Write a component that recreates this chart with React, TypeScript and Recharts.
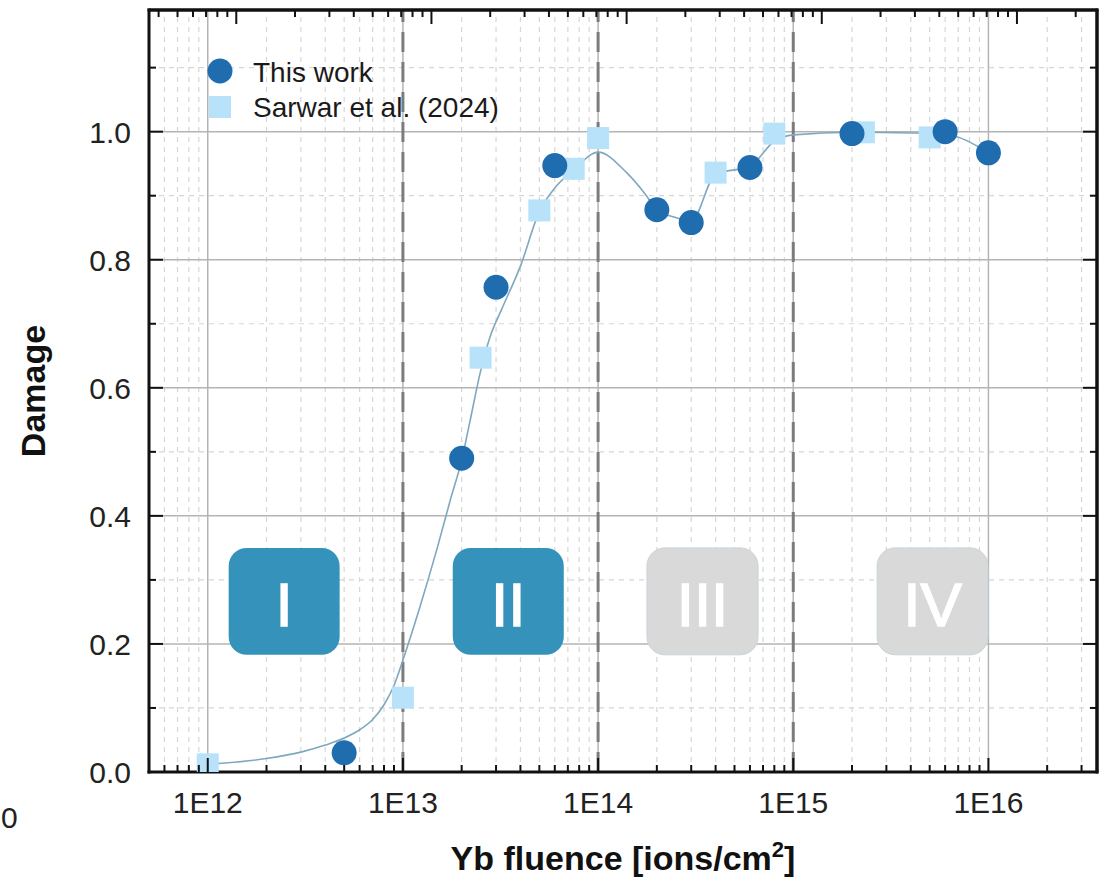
import {
  ComposedChart,
  Line,
  Scatter,
  XAxis,
  YAxis,
  ReferenceLine,
  ReferenceArea,
  Legend,
} from 'recharts';

const FONT = '"Liberation Sans", Arial, sans-serif';

// "This work" – measured damage vs Yb fluence
const thisWorkFluence = [5e12, 2e13, 3e13, 6e13, 2e14, 3e14, 6e14, 2e15, 6e15, 1e16];
const thisWorkDamage = [0.03, 0.49, 0.757, 0.947, 0.878, 0.858, 0.944, 0.997, 1.0, 0.967];

// Sarwar et al. (2024)
const sarwarFluence = [1e12, 1e13, 2.5e13, 5e13, 7.5e13, 1e14, 4e14, 8e14, 2.3e15, 5e15];
const sarwarDamage = [0.012, 0.116, 0.647, 0.877, 0.942, 0.99, 0.936, 0.997, 0.999, 0.991];

// guide-to-the-eye curve
const fitFluence = [
  1e12, 2e12, 3e12, 4e12, 5e12, 6e12, 7e12, 8e12, 9e12, 1e13, 1.2e13, 1.5e13, 1.75e13, 2e13,
  2.2e13, 2.5e13, 2.8e13, 3.2e13, 4e13, 5e13, 6e13, 7.5e13, 1e14, 1.4e14, 1.75e14, 2e14,
  2.5e14, 3e14, 4e14, 6e14, 8e14, 1e15, 2e15, 4e15, 6e15, 1e16,
];
const fitDamage = [
  0.012, 0.021, 0.031, 0.042, 0.053, 0.066, 0.082, 0.105, 0.135, 0.175, 0.25, 0.35, 0.425, 0.487,
  0.546, 0.626, 0.68, 0.722, 0.79, 0.875, 0.912, 0.94, 0.968, 0.936, 0.902, 0.878,
  0.866, 0.86, 0.934, 0.946, 0.985, 0.995, 0.999, 0.998, 0.996, 0.967,
];

// regimes I–IV
const regionNames = ['I', 'II', 'III', 'IV'];
const regionFrom = [1.28e12, 1.8e13, 1.78e14, 2.69e15];
const regionTo = [4.74e12, 6.67e13, 6.6e14, 9.95e15];
const regionHighlighted = [true, true, false, false];
const regionBottom = 0.183;
const regionTop = 0.35;

const boundaries = [1e13, 1e14, 1e15];

// axes
const xDomain = [5e11, 3.6e16];
const topShift = 1.4; // the top axis of the original is offset from the bottom one
const xMajorTicks = [1e12, 1e13, 1e14, 1e15, 1e16];
const xTickLabels = ['1E12', '1E13', '1E14', '1E15', '1E16'];
const mantissas = [2, 3, 4, 5, 6, 7, 8, 9];
const decades = [1e11, 1e12, 1e13, 1e14, 1e15, 1e16];
const yDomain = [0, 1.19];
const yMajorTicks = [0, 0.2, 0.4, 0.6, 0.8, 1.0];
const yTickLabels = ['0.0', '0.2', '0.4', '0.6', '0.8', '1.0'];
const yMinorTicks = [0.1, 0.3, 0.5, 0.7, 0.9, 1.1];

const seriesNames = ['This work', 'Sarwar et al. (2024)'];

const thisWork = thisWorkFluence.map((x, i) => ({ x, y: thisWorkDamage[i] }));
const sarwar = sarwarFluence.map((x, i) => ({ x, y: sarwarDamage[i] }));
const fit = fitFluence.map((x, i) => ({ x, y: fitDamage[i] }));

const minorIn = (lo: number, hi: number) =>
  decades.flatMap((d) => mantissas.map((m) => m * d)).filter((v) => v >= lo && v <= hi);

const xMinorTicks = minorIn(xDomain[0], xDomain[1]);
const bottomTicks = [...xMajorTicks, ...xMinorTicks].sort((a, b) => a - b);
const topDomain = [xDomain[0] / topShift, xDomain[1] / topShift];
const topTicks = [...xMajorTicks, ...minorIn(topDomain[0], topDomain[1])].sort((a, b) => a - b);
const yTicks = [...yMajorTicks, ...yMinorTicks].sort((a, b) => a - b);

const near = (a: number, b: number) => Math.abs(a - b) <= Math.abs(b) * 1e-6 + 1e-9;
const xMajorIndex = (v: number) => xMajorTicks.findIndex((t) => near(v, t));
const yMajorIndex = (v: number) => yMajorTicks.findIndex((t) => near(v, t));

const MAJOR = 14;
const MINOR = 7;
const AXIS_LINE = { stroke: '#111', strokeWidth: 3, strokeLinecap: 'square' as const };

const BottomTick = (props: any) => {
  const { x, y, payload } = props;
  const i = xMajorIndex(payload.value);
  return (
    <g>
      <line x1={x} y1={y} x2={x} y2={y - (i >= 0 ? MAJOR : MINOR)} stroke="#111" strokeWidth={2} />
      {i >= 0 && (
        <text x={x} y={y + 41} textAnchor="middle" fontSize={30} fill="#222" fontFamily={FONT}>
          {xTickLabels[i]}
        </text>
      )}
    </g>
  );
};

const TopTick = (props: any) => {
  const { x, y, payload } = props;
  const major = xMajorIndex(payload.value) >= 0;
  return <line x1={x} y1={y} x2={x} y2={y + (major ? MAJOR : MINOR)} stroke="#111" strokeWidth={2} />;
};

const LeftTick = (props: any) => {
  const { x, y, payload } = props;
  const i = yMajorIndex(payload.value);
  return (
    <g>
      <line x1={x} y1={y} x2={x + (i >= 0 ? MAJOR : MINOR)} y2={y} stroke="#111" strokeWidth={2} />
      {i >= 0 && (
        <text x={x - 18} y={y + 11} textAnchor="end" fontSize={30} fill="#222" fontFamily={FONT}>
          {yTickLabels[i]}
        </text>
      )}
    </g>
  );
};

const RightTick = (props: any) => {
  const { x, y, payload } = props;
  const major = yMajorIndex(payload.value) >= 0;
  return <line x1={x} y1={y} x2={x - (major ? MAJOR : MINOR)} y2={y} stroke="#111" strokeWidth={2} />;
};

const XTitle = (props: any) => {
  const vb = props.viewBox ?? { x: 149, y: 772, width: 948, height: 112 };
  return (
    <text
      x={vb.x + vb.width / 2}
      y={vb.y + 98}
      textAnchor="middle"
      fontSize={34}
      fontWeight="bold"
      fill="#111"
      fontFamily={FONT}
    >
      Yb fluence [ions/cm
      <tspan dy={-13} fontSize={22}>
        2
      </tspan>
      <tspan dy={13}>]</tspan>
    </text>
  );
};

const YTitle = (props: any) => {
  const vb = props.viewBox ?? { x: 0, y: 10, width: 149, height: 762 };
  const cy = vb.y + vb.height / 2;
  return (
    <g>
      <text
        x={45}
        y={cy}
        transform={`rotate(-90 45 ${cy})`}
        textAnchor="middle"
        fontSize={34}
        fontWeight="bold"
        fill="#111"
        fontFamily={FONT}
      >
        Damage
      </text>
      {/* stray label at the left border of the original picture */}
      <text x={1} y={828} fontSize={30} fill="#222" fontFamily={FONT}>
        0
      </text>
    </g>
  );
};

const regionShape = (name: string, on: boolean) => (p: any) => (
  <g>
    <rect
      x={p.x}
      y={p.y}
      width={p.width}
      height={p.height}
      rx={18}
      ry={18}
      fill={on ? '#3593bb' : '#d9d9d9'}
      stroke={on ? 'none' : '#c5d4dd'}
      strokeWidth={1}
    />
    <text
      x={p.x + p.width / 2}
      y={p.y + p.height / 2 + 25}
      textAnchor="middle"
      fontSize={62}
      fill="#fff"
      stroke="#fff"
      strokeWidth={1.5}
      fontFamily={FONT}
    >
      {name}
    </text>
  </g>
);

const LegendBox = () => (
  <svg width={330} height={80} style={{ display: 'block' }}>
    <circle cx={25} cy={23} r={12.5} fill="#1f6daf" />
    <text x={58} y={34} fontSize={28} fill="#1a1a1a" fontFamily={FONT}>
      {seriesNames[0]}
    </text>
    <rect x={14} y={48} width={22} height={22} fill="#b8e2f9" />
    <text x={58} y={69} fontSize={28} fill="#1a1a1a" fontFamily={FONT}>
      {seriesNames[1]}
    </text>
  </svg>
);

export default function App() {
  return (
    <div style={{ position: 'absolute', left: 0, top: 0, width: 1114, height: 884, background: '#fff' }}>
      <ComposedChart width={1114} height={884} margin={{ top: 9, right: 16, bottom: 0, left: 0 }}>
        <XAxis
          dataKey="x"
          type="number"
          scale="log"
          domain={xDomain}
          allowDataOverflow
          ticks={bottomTicks}
          interval={0}
          tick={BottomTick}
          tickLine={false}
          tickSize={0}
          tickMargin={0}
          height={112}
          axisLine={AXIS_LINE}
          label={{ content: (p: any) => <XTitle viewBox={p.viewBox} /> }}
        />
        <XAxis
          xAxisId="top"
          orientation="top"
          dataKey="x"
          type="number"
          scale="log"
          domain={topDomain}
          allowDataOverflow
          ticks={topTicks}
          interval={0}
          tick={TopTick}
          tickLine={false}
          tickSize={0}
          tickMargin={0}
          height={1}
          axisLine={AXIS_LINE}
        />
        <YAxis
          type="number"
          domain={yDomain}
          allowDataOverflow
          ticks={yTicks}
          interval={0}
          tick={LeftTick}
          tickLine={false}
          tickSize={0}
          tickMargin={0}
          width={149}
          axisLine={AXIS_LINE}
          label={{ content: (p: any) => <YTitle viewBox={p.viewBox} /> }}
        />
        <YAxis
          yAxisId="right"
          orientation="right"
          type="number"
          domain={yDomain}
          allowDataOverflow
          ticks={yTicks}
          interval={0}
          tick={RightTick}
          tickLine={false}
          tickSize={0}
          tickMargin={0}
          width={1}
          axisLine={AXIS_LINE}
        />

        {/* grid: minor dashed, major solid */}
        {xMinorTicks.map((v) => (
          <ReferenceLine key={`xm${v}`} x={v} stroke="#d6d6d6" strokeWidth={1.2} strokeDasharray="5 5" zIndex={-100} />
        ))}
        {yMinorTicks.map((v) => (
          <ReferenceLine key={`ym${v}`} y={v} stroke="#d6d6d6" strokeWidth={1.2} strokeDasharray="5 5" zIndex={-100} />
        ))}
        {xMajorTicks.map((v) => (
          <ReferenceLine key={`xM${v}`} x={v} stroke="#b4b4b4" strokeWidth={1.5} zIndex={-95} />
        ))}
        {yMajorTicks.slice(1).map((v) => (
          <ReferenceLine key={`yM${v}`} y={v} stroke="#b4b4b4" strokeWidth={1.5} zIndex={-95} />
        ))}

        {boundaries.map((v) => (
          <ReferenceLine key={`b${v}`} x={v} stroke="#7c7c7c" strokeWidth={3} strokeDasharray="20 10" zIndex={-90} />
        ))}

        {regionNames.map((name, i) => (
          <ReferenceArea
            key={name}
            x1={regionFrom[i]}
            x2={regionTo[i]}
            y1={regionBottom}
            y2={regionTop}
            zIndex={-80}
            shape={regionShape(name, regionHighlighted[i])}
          />
        ))}

        {/* plot frame on the top and right */}
        <ReferenceLine x={xDomain[1]} stroke="#111" strokeWidth={3} zIndex={700} />
        <ReferenceLine y={yDomain[1]} stroke="#111" strokeWidth={3} zIndex={700} />

        <Line
          data={fit}
          dataKey="y"
          type="monotone"
          stroke="#7ea8bf"
          strokeWidth={1.6}
          dot={false}
          activeDot={false}
          isAnimationActive={false}
        />
        <Scatter
          name={seriesNames[1]}
          data={sarwar}
          dataKey="y"
          isAnimationActive={false}
          shape={(p: any) => <rect x={p.cx - 11} y={p.cy - 11} width={22} height={22} fill="#b8e2f9" />}
        />
        <Scatter
          name={seriesNames[0]}
          data={thisWork}
          dataKey="y"
          isAnimationActive={false}
          shape={(p: any) => <circle cx={p.cx} cy={p.cy} r={12.5} fill="#1f6daf" />}
        />

        <Legend
          layout="horizontal"
          verticalAlign="middle"
          align="center"
          wrapperStyle={{ left: 195, top: 48, width: 330, height: 80 }}
          content={() => <LegendBox />}
        />
      </ComposedChart>
    </div>
  );
}
